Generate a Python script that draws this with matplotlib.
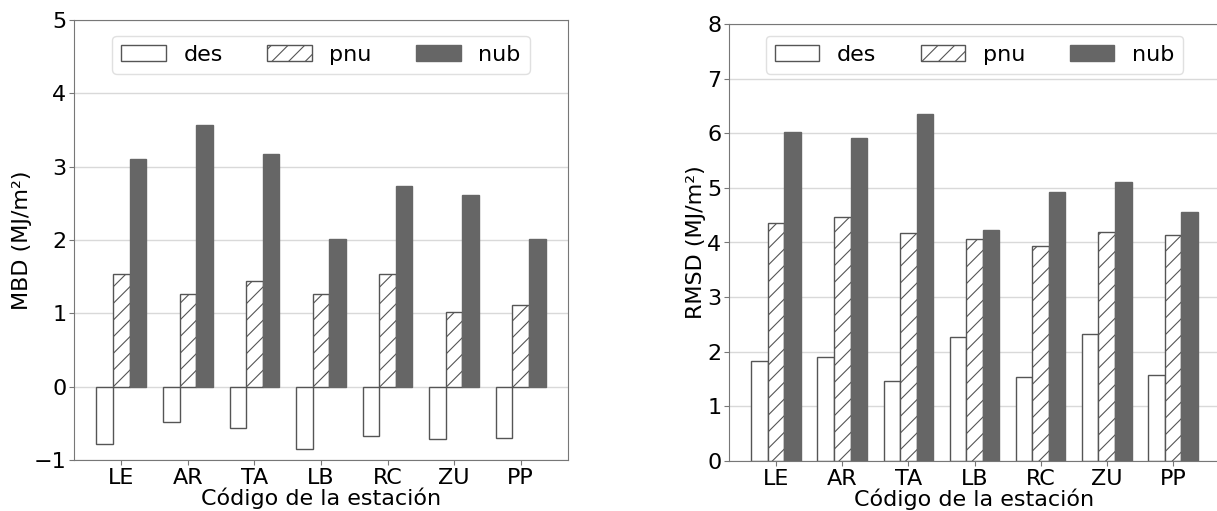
import numpy as np
import matplotlib
matplotlib.use('Agg')
import matplotlib.pyplot as plt

plt.rcParams['font.family'] = ['DejaVu Sans']
plt.rcParams['hatch.color'] = '#444444'
plt.rcParams['hatch.linewidth'] = 0.8

estaciones = ['LE', 'AR', 'TA', 'LB', 'RC', 'ZU', 'PP']
series = ['des', 'pnu', 'nub']

# MBD (MJ/m2)
mbd_des = [-0.78, -0.48, -0.56, -0.85, -0.67, -0.71, -0.70]
mbd_pnu = [1.54, 1.27, 1.44, 1.26, 1.53, 1.02, 1.12]
mbd_nub = [3.10, 3.57, 3.17, 2.02, 2.73, 2.62, 2.01]

# RMSD (MJ/m2)
rmsd_des = [1.83, 1.91, 1.46, 2.27, 1.53, 2.32, 1.57]
rmsd_pnu = [4.35, 4.46, 4.18, 4.06, 3.93, 4.20, 4.13]
rmsd_nub = [6.02, 5.92, 6.36, 4.23, 4.93, 5.10, 4.55]

fs = 16
w = 0.25
x = np.arange(len(estaciones))

fig = plt.figure(figsize=(12.17, 5.11), dpi=100)
ax1 = fig.add_axes([74/1217, (511-460)/511, 494/1217, 440/511])
ax2 = fig.add_axes([729/1217, (511-461)/511, 491/1217, 437/511])


def barras(ax, des, pnu, nub, ylabel, ylim, anchor_y):
    ax.set_axisbelow(True)
    ax.yaxis.grid(True, color='#d9d9d9', linewidth=1.0)
    ax.bar(x - w, des, w, color='white', edgecolor='#555555', linewidth=1.0, label=series[0])
    ax.bar(x, pnu, w, color='white', edgecolor='#555555', linewidth=1.0, hatch='//', label=series[1])
    ax.bar(x + w, nub, w, color='#666666', edgecolor='#666666', linewidth=1.0, label=series[2])
    ax.set_ylim(*ylim)
    ax.set_xticks(x)
    ax.set_xticklabels(estaciones)
    ax.tick_params(labelsize=fs, color='#777777', length=3.5, pad=2)
    for s in ax.spines.values():
        s.set_color('#777777')
    ax.set_ylabel(ylabel, fontsize=fs, labelpad=1)
    ax.set_xlabel('Código de la estación', fontsize=fs, labelpad=0)
    ax.legend(loc='upper center', bbox_to_anchor=(0.5, anchor_y), ncol=3, fontsize=fs,
              frameon=True, edgecolor='#e0e0e0', framealpha=1.0, fancybox=True)


barras(ax1, mbd_des, mbd_pnu, mbd_nub, 'MBD (MJ/m²)', (-1, 5), 0.989)
barras(ax2, rmsd_des, rmsd_pnu, rmsd_nub, 'RMSD (MJ/m²)', (0, 8), 0.998)

fig.savefig('out.png', dpi=100)
